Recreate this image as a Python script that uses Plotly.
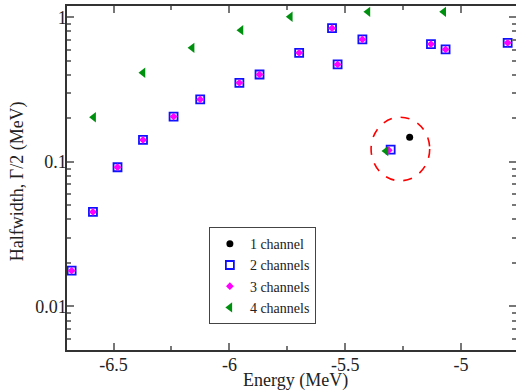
import plotly.graph_objects as go

# ---- data ----
E_1ch = [-5.222]
G_1ch = [0.148]

E_2ch = [-6.681, -6.589, -6.483, -6.373, -6.241, -6.126, -5.957, -5.870,
         -5.699, -5.557, -5.533, -5.426, -5.304, -5.130, -5.067, -4.799]
G_2ch = [0.0177, 0.0451, 0.0919, 0.142, 0.206, 0.271, 0.353, 0.403,
         0.569, 0.843, 0.473, 0.705, 0.1216, 0.654, 0.601, 0.667]

E_3ch = [-6.681, -6.589, -6.483, -6.373, -6.241, -6.126, -5.957, -5.870,
         -5.699, -5.557, -5.533, -5.426, -5.312, -5.130, -5.067, -4.799]
G_3ch = [0.0177, 0.0451, 0.0919, 0.142, 0.206, 0.271, 0.353, 0.403,
         0.569, 0.843, 0.473, 0.705, 0.1205, 0.654, 0.601, 0.667]

E_4ch = [-6.586, -6.373, -6.161, -5.950, -5.737, -5.402, -5.075, -5.324]
G_4ch = [0.204, 0.414, 0.616, 0.817, 1.01, 1.093, 1.093, 0.119]

SERIES_NAMES = ["1 channel", "2 channels", "3 channels", "4 channels"]

X_TICKS = [-6.5, -6.0, -5.5, -5.0]
X_TICK_TEXT = ["-6.5", "-6", "-5.5", "-5"]
Y_TICKS = [0.01, 0.1, 1]
Y_TICK_TEXT = ["0.01", "0.1", "1"]

X_RANGE = [-6.701, -4.763]
Y_RANGE_LOG = [-2.30103, 0.07918]   # log10 of 0.005 .. 1.2

# highlighted region (dashed circle), data coords
CIRCLE_E = [-5.3885, -5.1355]
CIRCLE_G = [0.0741, 0.204]

FONT = "Liberation Serif"

fig = go.Figure()
fig.add_trace(go.Scatter(x=E_1ch, y=G_1ch, mode="markers", name=SERIES_NAMES[0],
                         marker=dict(symbol="circle", size=7, color="black")))
fig.add_trace(go.Scatter(x=E_2ch, y=G_2ch, mode="markers", name=SERIES_NAMES[1],
                         marker=dict(symbol="square-open", size=8, color="#1010ff",
                                     line=dict(width=1.8, color="#1010ff"))))
fig.add_trace(go.Scatter(x=E_3ch, y=G_3ch, mode="markers", name=SERIES_NAMES[2],
                         marker=dict(symbol="diamond", size=6, color="#ff00ff",
                                     line=dict(width=0))))
fig.add_trace(go.Scatter(x=E_4ch, y=G_4ch, mode="markers", name=SERIES_NAMES[3],
                         marker=dict(symbol="triangle-left", size=9, color="#00900f",
                                     line=dict(width=0))))

fig.add_shape(type="circle", xref="x", yref="y",
              x0=CIRCLE_E[0], x1=CIRCLE_E[1], y0=CIRCLE_G[0], y1=CIRCLE_G[1],
              line=dict(color="red", width=1.6, dash="dash"))

axis_common = dict(
    showline=True, linecolor="#333", linewidth=1.5, mirror="allticks",
    ticks="inside", tickcolor="#777", tickwidth=1.5, ticklen=7,
    showgrid=False, zeroline=False, automargin=False,
    tickfont=dict(family=FONT, size=18, color="#222"),
)

fig.update_xaxes(range=X_RANGE, tickmode="array", tickvals=X_TICKS, ticktext=X_TICK_TEXT,
                 ticklabelstandoff=-2,
                 minor=dict(tick0=-6.5, dtick=0.25, ticks="inside", ticklen=4,
                            tickcolor="#777", tickwidth=1.5),
                 **axis_common)
fig.update_yaxes(type="log", range=Y_RANGE_LOG, tickmode="array",
                 tickvals=Y_TICKS, ticktext=Y_TICK_TEXT,
                 ticklabelstandoff=-5,
                 minor=dict(dtick="D1", ticks="inside", ticklen=4,
                            tickcolor="#777", tickwidth=1.5),
                 **axis_common)

fig.add_annotation(text="Energy (MeV)", xref="paper", yref="paper",
                   x=0.508, y=-0.090, xanchor="center", yanchor="middle",
                   showarrow=False, font=dict(family=FONT, size=18, color="#222"))
fig.add_annotation(text="Halfwidth, Γ/2 (MeV)", xref="paper", yref="paper",
                   x=-0.111, y=0.491, xanchor="center", yanchor="middle",
                   textangle=-90, showarrow=False,
                   font=dict(family=FONT, size=18, color="#222"))

fig.update_layout(
    width=516, height=392,
    margin=dict(l=67, r=0, t=6, b=42, autoexpand=False),
    plot_bgcolor="white", paper_bgcolor="white",
    font=dict(family=FONT, color="#222"),
    legend=dict(x=0.316, y=0.357, xanchor="left", yanchor="top",
                bordercolor="#444", borderwidth=1, bgcolor="white",
                font=dict(family=FONT, size=14, color="#222"),
                tracegroupgap=0, itemwidth=30),
)

fig.write_html("out.html",
               config={"displayModeBar": False},
               post_script="document.body.style.margin='0px';"
                           "document.body.style.overflow='hidden';")
